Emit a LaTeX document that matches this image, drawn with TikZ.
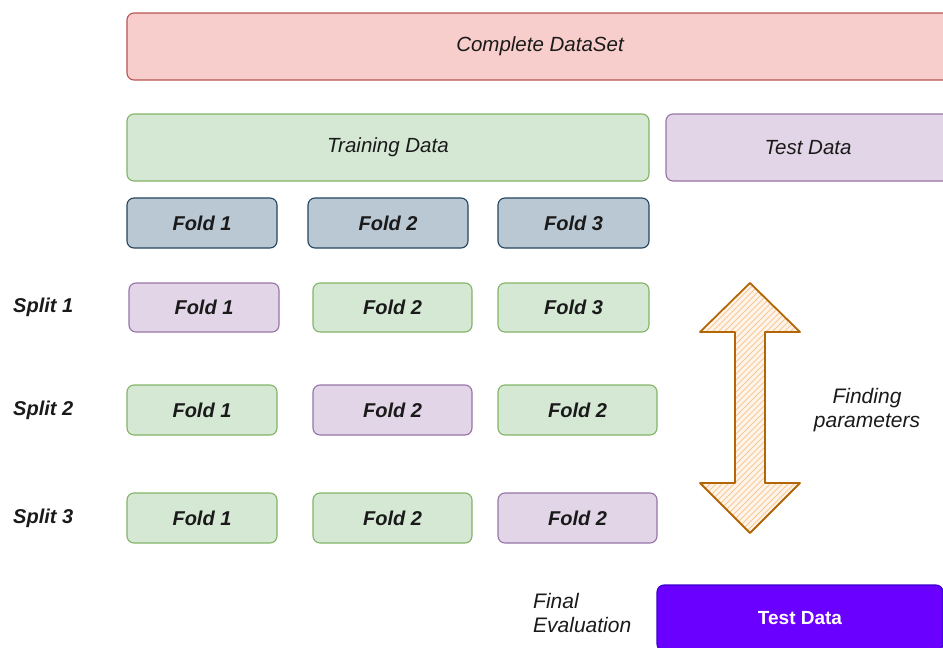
\documentclass[tikz,border=0pt]{standalone}
\usepackage{fontspec}
\setmainfont{Liberation Sans}
\begin{document}
\begin{tikzpicture}[x=1pt,y=-1pt,
  box/.style={draw, rounded corners=7pt, line width=1.1pt, inner sep=0pt, align=center},
  redbox/.style={box, fill=redF, draw=redD},
  greenbox/.style={box, fill=greenF, draw=greenD},
  purplebox/.style={box, fill=purpleF, draw=purpleD},
  bluebox/.style={box, fill=blueF, draw=blueD},
  bigtxt/.style={font=\fontsize{20.5}{24}\selectfont\itshape, text=txt},
  foldtxt/.style={font=\fontsize{20}{24}\selectfont\bfseries\itshape, text=txt},
  plaintxt/.style={font=\fontsize{21}{24}\selectfont\itshape, text=txt, inner sep=0pt},
  foldbox/.style={minimum height=50pt},
]
\definecolor{redF}{HTML}{F8CECC}\definecolor{redD}{HTML}{B85450}
\definecolor{greenF}{HTML}{D5E8D4}\definecolor{greenD}{HTML}{82B366}
\definecolor{purpleF}{HTML}{E1D5E7}\definecolor{purpleD}{HTML}{9673A6}
\definecolor{blueF}{HTML}{BAC8D3}\definecolor{blueD}{HTML}{23445D}
\definecolor{violet}{HTML}{6A00FF}\definecolor{violetD}{HTML}{3700CC}
\definecolor{arrowD}{HTML}{B46504}\definecolor{arrowF}{HTML}{FEF4EA}\definecolor{hatch}{HTML}{F6C896}
\definecolor{txt}{HTML}{1A1A1A}

\useasboundingbox (0,0) rectangle (943,648);

% top-level data split
\node[redbox, bigtxt, minimum width=826pt, minimum height=67pt] (all) at (540,46.5) {Complete DataSet};
\node[greenbox, bigtxt, minimum width=522pt, minimum height=67pt] (train) at (388,147.5) {Training Data};
\node[purplebox, bigtxt, minimum width=284pt, minimum height=67pt] (test) at (808,147.5) {Test Data};

% folds of the training data
\node[bluebox, foldtxt, foldbox, minimum width=150pt] (f1) at (202,223) {Fold 1};
\node[bluebox, foldtxt, foldbox, minimum width=160pt] (f2) at (388,223) {Fold 2};
\node[bluebox, foldtxt, foldbox, minimum width=151pt] (f3) at (573.5,223) {Fold 3};

% split 1
\node[foldtxt, anchor=west, inner sep=0pt] (sp1) at (13,307) {Split 1};
\node[purplebox, foldtxt, foldbox, minimum width=150pt, minimum height=49pt] (s1a) at (204,307.5) {Fold 1};
\node[greenbox, foldtxt, foldbox, minimum width=159pt, minimum height=49pt] (s1b) at (392.5,307.5) {Fold 2};
\node[greenbox, foldtxt, foldbox, minimum width=151pt, minimum height=49pt] (s1c) at (573.5,307.5) {Fold 3};

% split 2
\node[foldtxt, anchor=west, inner sep=0pt] (sp2) at (13,410) {Split 2};
\node[greenbox, foldtxt, foldbox, minimum width=150pt] (s2a) at (202,410) {Fold 1};
\node[purplebox, foldtxt, foldbox, minimum width=159pt] (s2b) at (392.5,410) {Fold 2};
\node[greenbox, foldtxt, foldbox, minimum width=159pt] (s2c) at (577.5,410) {Fold 2};

% split 3
\node[foldtxt, anchor=west, inner sep=0pt] (sp3) at (13,518) {Split 3};
\node[greenbox, foldtxt, foldbox, minimum width=150pt] (s3a) at (202,518) {Fold 1};
\node[greenbox, foldtxt, foldbox, minimum width=159pt] (s3b) at (392.5,518) {Fold 2};
\node[purplebox, foldtxt, foldbox, minimum width=159pt] (s3c) at (577.5,518) {Fold 2};

% sketchy double arrow for the parameter search
\def\arrowshape{(750,283) -- (700,332) -- (735,332) -- (735,483) -- (700,483) -- (750,533) -- (800,483) -- (765,483) -- (765,332) -- (800,332) -- cycle}
\fill[arrowF] \arrowshape;
\begin{scope}
  \clip \arrowshape;
  \foreach \k in {0,6,...,340}
    \draw[hatch, line width=0.9pt] (690,300+\k) -- (810,180+\k);
\end{scope}
\draw[arrowD, line width=1.8pt, line join=round] \arrowshape;

\node[plaintxt, align=center] (find) at (867,410) {Finding\\parameters};

% final evaluation on held-out data
\node[plaintxt, align=left, anchor=west] (final) at (533,613) {Final\\Evaluation};
\node[box, fill=violet, draw=violetD, minimum width=286pt, minimum height=66pt,
      font=\fontsize{19}{22}\selectfont\bfseries, text=white] (testF) at (800,618) {Test Data};
\end{tikzpicture}
\end{document}
